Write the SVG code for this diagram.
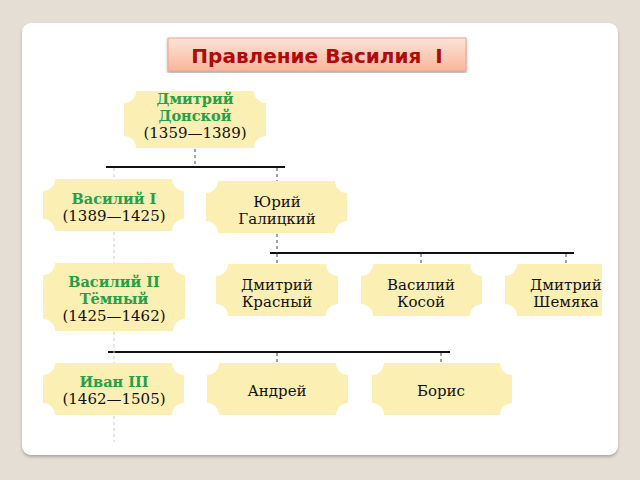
<svg xmlns="http://www.w3.org/2000/svg" width="640" height="480" viewBox="0 0 640 480">
<defs>
<linearGradient id="tg" x1="0" y1="0" x2="0" y2="1">
<stop offset="0" stop-color="#FDE3D6"/>
<stop offset="1" stop-color="#F8B79C"/>
</linearGradient>
<filter id="sh" x="-5%" y="-5%" width="110%" height="110%">
<feDropShadow dx="0" dy="2" stdDeviation="1.5" flood-color="#999" flood-opacity="0.8"/>
</filter>
<style>
.node{fill:#FCEFB3}
.t{font-family:"DejaVu Serif","Liberation Serif",serif;font-size:15px;fill:#111;text-anchor:middle}
.g{font-family:"DejaVu Serif","Liberation Serif",serif;font-size:14.5px;font-weight:bold;fill:#25A048;text-anchor:middle}
.solid{stroke:#111;stroke-width:2;fill:none}
.dash{stroke:#444;stroke-width:1;stroke-dasharray:3,3;fill:none}
.light{stroke:#ccc;stroke-width:1;stroke-dasharray:3,3;fill:none}
</style>
</defs>
<rect width="640" height="480" fill="#E5DED4"/>
<rect x="22" y="23" width="596" height="432" rx="9" fill="#fff" filter="url(#sh)"/>
<g id="title">
<rect x="168" y="38" width="298" height="33" fill="url(#tg)" stroke="#E8A890" stroke-width="1" filter="url(#sh)"/>
<text x="317" y="63" font-family="DejaVu Sans,Verdana,sans-serif" font-size="20" font-weight="bold" fill="#B00A0A" text-anchor="middle" xml:space="preserve">Правление Василия  I</text>
</g>
<g id="connectors">
<path class="solid" d="M106 167H285M270 253H574"/>
<path class="solid" d="M108 352H450" stroke-width="1.5" stroke="#333"/>
<path class="dash" d="M195 149V167M277 168V181M277 234V253M277 254V264M421 254V264M566 254V264M277 353V363M441 353V363"/>
<path class="light" d="M114 168V179M114 232V263M114 332V363M114 416V442"/>
</g>
<g id="donskoy">
<path class="node" d="M136 91H254A12 12 0 0 0 266 103V136A12 12 0 0 0 254 148H136A12 12 0 0 0 124 136V103A12 12 0 0 0 136 91Z"/>
<text class="g" x="195" y="104">Дмитрий</text>
<text class="g" x="195" y="121">Донской</text>
<text class="t" x="195" y="138">(1359—1389)</text>
</g>
<g id="vasily1">
<path class="node" d="M55 179H172A12 12 0 0 0 184 191V219A12 12 0 0 0 172 231H55A12 12 0 0 0 43 219V191A12 12 0 0 0 55 179Z"/>
<text class="g" x="114" y="204">Василий I</text>
<text class="t" x="114" y="221">(1389—1425)</text>
</g>
<g id="yury">
<path class="node" d="M218 181H335A12 12 0 0 0 347 193V221A12 12 0 0 0 335 233H218A12 12 0 0 0 206 221V193A12 12 0 0 0 218 181Z"/>
<text class="t" x="277" y="207">Юрий</text>
<text class="t" x="277" y="224">Галицкий</text>
</g>
<g id="vasily2">
<path class="node" d="M55 263H173A12 12 0 0 0 185 275V319A12 12 0 0 0 173 331H55A12 12 0 0 0 43 319V275A12 12 0 0 0 55 263Z"/>
<text class="g" x="114" y="287">Василий II</text>
<text class="g" x="114" y="304">Тёмный</text>
<text class="t" x="114" y="321">(1425—1462)</text>
</g>
<g id="krasny">
<path class="node" d="M228 264H326A12 12 0 0 0 338 276V304A12 12 0 0 0 326 316H228A12 12 0 0 0 216 304V276A12 12 0 0 0 228 264Z"/>
<text class="t" x="277" y="290">Дмитрий</text>
<text class="t" x="277" y="307">Красный</text>
</g>
<g id="kosoy">
<path class="node" d="M373 264H470A12 12 0 0 0 482 276V304A12 12 0 0 0 470 316H373A12 12 0 0 0 361 304V276A12 12 0 0 0 373 264Z"/>
<text class="t" x="421" y="290">Василий</text>
<text class="t" x="421" y="307">Косой</text>
</g>
<g id="shemyaka">
<path class="node" d="M517 264H602V316H517A12 12 0 0 0 505 304V276A12 12 0 0 0 517 264Z"/>
<text class="t" x="566" y="290">Дмитрий</text>
<text class="t" x="566" y="307">Шемяка</text>
</g>
<g id="ivan3">
<path class="node" d="M55 363H172A12 12 0 0 0 184 375V403A12 12 0 0 0 172 415H55A12 12 0 0 0 43 403V375A12 12 0 0 0 55 363Z"/>
<text class="g" x="114" y="387">Иван III</text>
<text class="t" x="114" y="404">(1462—1505)</text>
</g>
<g id="andrey">
<path class="node" d="M219 363H336A12 12 0 0 0 348 375V403A12 12 0 0 0 336 415H219A12 12 0 0 0 207 403V375A12 12 0 0 0 219 363Z"/>
<text class="t" x="277" y="396">Андрей</text>
</g>
<g id="boris">
<path class="node" d="M384 363H500A12 12 0 0 0 512 375V403A12 12 0 0 0 500 415H384A12 12 0 0 0 372 403V375A12 12 0 0 0 384 363Z"/>
<text class="t" x="441" y="396">Борис</text>
</g>
</svg>
